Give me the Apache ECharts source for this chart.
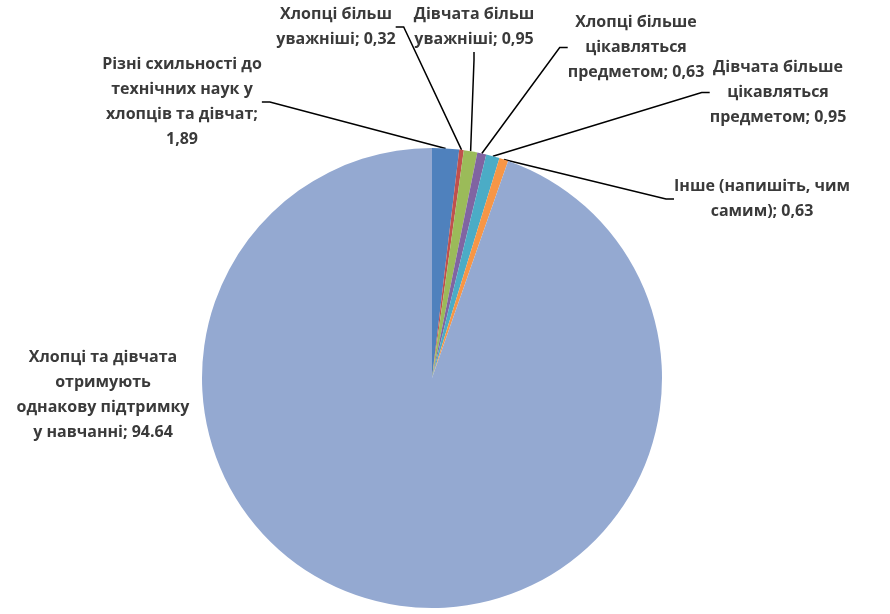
<!DOCTYPE html>
<html>
<head>
<meta charset="utf-8">
<script src="https://cdn.jsdelivr.net/npm/echarts@6/dist/echarts.min.js"></script>
<style>
html,body{margin:0;padding:0;background:#fff;}
#chart{width:890px;height:614px;}
</style>
</head>
<body>
<div id="chart"></div>
<script>
// Categories (full text) and wrapped label text as they appear in the chart
const categories = [
  'Різні схильності до технічних наук у хлопців та дівчат',
  'Хлопці більш уважніші',
  'Дівчата більш уважніші',
  'Хлопці більше цікавляться предметом',
  'Дівчата більше цікавляться предметом',
  'Інше (напишіть, чим самим)',
  'Хлопці та дівчата отримують однакову підтримку у навчанні'
];
const labelNames = [
  'Різні схильності до\nтехнічних наук у\nхлопців та дівчат;\n',
  'Хлопці більш\nуважніші; ',
  'Дівчата більш\nуважніші; ',
  'Хлопці більше\nцікавляться\nпредметом; ',
  'Дівчата більше\nцікавляться\nпредметом; ',
  'Інше (напишіть, чим\nсамим); ',
  'Хлопці та дівчата\nотримують\nоднакову підтримку\nу навчанні; '
];
const values = [1.89, 0.32, 0.95, 0.63, 0.95, 0.63, 94.64];
const colors = ['#4F81BD', '#C0504D', '#9BBB59', '#8064A2', '#4BACC6', '#F79646', '#94A9D1'];

// label anchor positions (center x, top y)
const labelPos = [
  [182, 52], [336, 2], [474, 2], [636, 10], [778, 55], [762, 174], [103, 345]
];

const chart = echarts.init(document.getElementById('chart'), null, {renderer: 'canvas'});
const data = categories.map((c, i) => ({
  name: c,
  value: values[i],
  itemStyle: {color: colors[i]},
  labelLine: {show: i !== 6}
}));

chart.setOption({
  animation: false,
  backgroundColor: '#ffffff',
  series: [{
    type: 'pie',
    center: [432, 378],
    radius: 230,
    startAngle: 90,
    clockwise: true,
    avoidLabelOverlap: false,
    data: data,
    label: {
      show: true,
      position: 'outside',
      fontFamily: 'Open Sans',
      fontWeight: 'bold',
      fontSize: 16,
      lineHeight: 25,
      color: '#3a3a3a',
      align: 'center',
      formatter: function (p) {
        const v = p.dataIndex === 6 ? p.value.toFixed(2) : p.value.toFixed(2).replace('.', ',');
        return labelNames[p.dataIndex] + v;
      }
    },
    labelLine: {
      show: true,
      length: 10,
      length2: 8,
      smooth: false,
      lineStyle: {color: '#000', width: 1.5}
    },
    labelLayout: function (params) {
      const pos = labelPos[params.dataIndex];
      return {
        x: pos[0],
        y: pos[1],
        align: 'center',
        verticalAlign: 'top'
      };
    }
  }]
});
</script>
</body>
</html>
